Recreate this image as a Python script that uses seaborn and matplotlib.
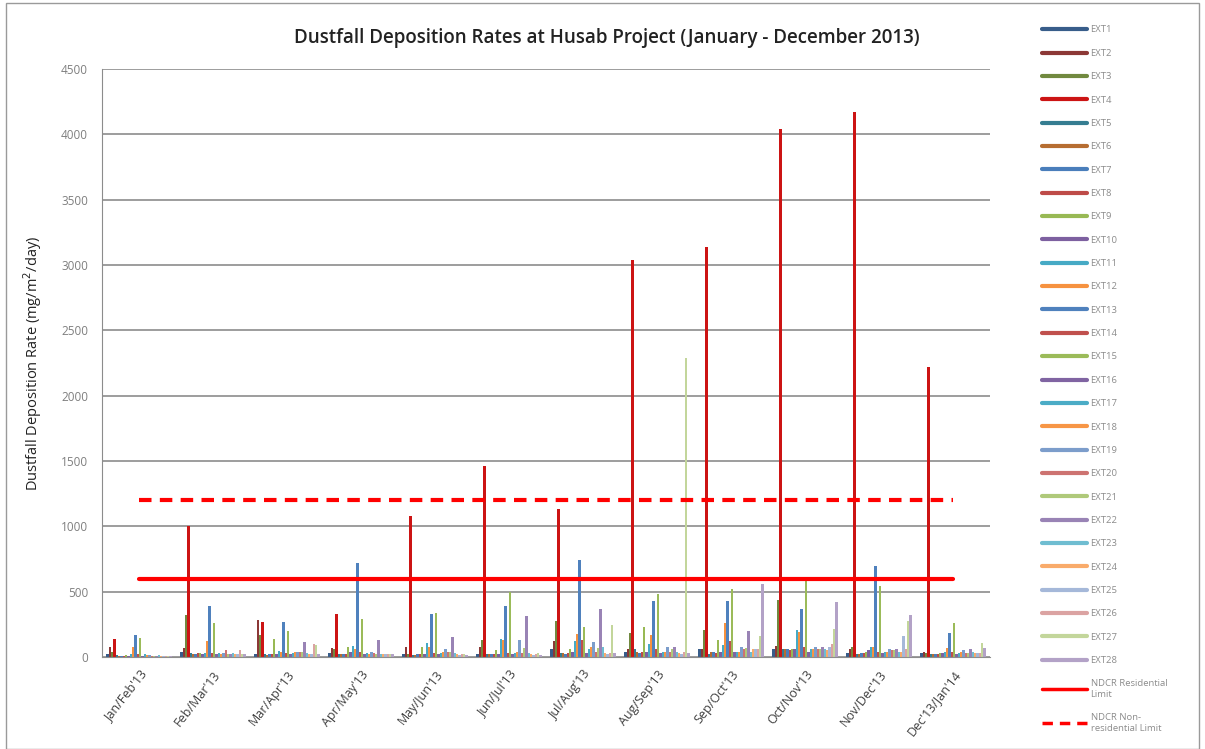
import numpy as np
import pandas as pd
import seaborn as sns
import matplotlib.pyplot as plt
from matplotlib.lines import Line2D
from matplotlib.patches import Rectangle

periods = ["Jan/Feb'13", "Feb/Mar'13", "Mar/Apr'13", "Apr/May'13", "May/Jun'13", "Jun/Jul'13",
           "Jul/Aug'13", "Aug/Sep'13", "Sep/Oct'13", "Oct/Nov'13", "Nov/Dec'13", "Dec'13/Jan'14"]
sites = ["EXT%d" % i for i in range(1, 29)]

# dustfall per site (mg/m2/day), one list per period, EXT1..EXT28
jan_feb = [20, 75, 40, 140, 15, 10, 10, 10, 15, 10, 20, 75, 165, 20, 145, 10, 25, 15, 15, 10, 10, 10, 15, 10, 5, 5, 5, 5]
feb_mar = [35, 70, 320, 1000, 30, 25, 25, 30, 30, 25, 30, 123, 392, 30, 261, 25, 30, 25, 30, 50, 25, 25, 30, 25, 20, 50, 20, 20]
mar_apr = [20, 280, 165, 265, 20, 15, 20, 20, 135, 25, 45, 40, 265, 30, 200, 20, 30, 40, 40, 35, 40, 113, 30, 20, 20, 97, 95, 20]
apr_may = [30, 70, 60, 330, 20, 20, 25, 20, 80, 40, 85, 60, 722, 40, 292, 25, 30, 25, 40, 30, 25, 130, 25, 20, 20, 25, 25, 20]
may_jun = [20, 80, 20, 1080, 15, 15, 20, 20, 80, 25, 108, 80, 328, 30, 335, 25, 30, 40, 60, 35, 40, 155, 30, 20, 15, 25, 25, 15]
jun_jul = [20, 80, 133, 1460, 25, 20, 20, 20, 50, 25, 135, 133, 394, 30, 500, 25, 30, 40, 133, 30, 70, 310, 30, 20, 15, 25, 30, 15]
jul_aug = [65, 123, 275, 1130, 30, 30, 25, 30, 60, 40, 123, 175, 742, 128, 230, 30, 60, 80, 115, 40, 70, 371, 80, 30, 25, 30, 243, 30]
aug_sep = [40, 60, 180, 3040, 60, 40, 30, 35, 230, 40, 100, 170, 425, 60, 481, 30, 40, 40, 80, 40, 60, 80, 40, 30, 25, 40, 2290, 30]
sep_oct = [60, 60, 205, 3140, 25, 40, 40, 30, 133, 40, 90, 264, 432, 125, 517, 40, 40, 40, 80, 60, 70, 200, 40, 60, 60, 60, 160, 560]
oct_nov = [60, 85, 435, 4040, 60, 60, 60, 50, 60, 60, 205, 190, 371, 80, 578, 40, 60, 60, 80, 60, 60, 80, 60, 50, 80, 100, 218, 420]
nov_dec = [30, 60, 80, 4170, 20, 25, 30, 30, 40, 50, 80, 80, 696, 40, 545, 30, 40, 40, 60, 50, 50, 60, 40, 40, 160, 60, 277, 320]
dec_jan = [30, 40, 30, 2220, 20, 20, 25, 25, 30, 30, 40, 70, 180, 40, 264, 25, 30, 40, 50, 30, 30, 60, 40, 30, 30, 30, 108, 70]

residential_limit = [600] * len(periods)
non_residential_limit = [1200] * len(periods)

colors = ["#385D8A", "#8C3836", "#71893F", "#CC1414", "#357D91", "#B66D31",
          "#4A7EBB", "#BE4B48", "#98B954", "#7D60A0", "#46AAC5", "#F69240",
          "#4F81BD", "#C0504D", "#9BBB59", "#8064A2", "#4BACC6", "#F79646",
          "#7C9DCB", "#CD7371", "#AFC97A", "#9983B5", "#6FBDD1", "#F9AB6B",
          "#A5B8D9", "#DBA3A2", "#C3D69B", "#B3A2C7"]

rows = [jan_feb, feb_mar, mar_apr, apr_may, may_jun, jun_jul,
        jul_aug, aug_sep, sep_oct, oct_nov, nov_dec, dec_jan]
records = []
for p, vals in zip(periods, rows):
    for s, v in zip(sites, vals):
        records.append({"period": p, "site": s, "rate": v})
df = pd.DataFrame(records)

sns.set_style("white")
plt.rcParams["font.family"] = ["Open Sans", "DejaVu Sans"]

fig = plt.figure(figsize=(12.05, 7.49), dpi=100)
ax = fig.add_axes([102 / 1205, 1 - 657 / 749, 888 / 1205, 588 / 749])

sns.barplot(data=df, x="period", y="rate", hue="site", palette=colors,
            width=0.88, gap=0, saturation=1, linewidth=0, ax=ax, legend=False, zorder=2)

ax.plot(range(len(periods)), residential_limit, color="#FF0000", lw=3, zorder=3)
ax.plot(range(len(periods)), non_residential_limit, color="#FF0000", lw=3,
        ls=(0, (3, 2)), zorder=3)

ax.set_xlim(-0.5, len(periods) - 0.5)
ax.set_ylim(0, 4500)
ax.set_yticks(np.arange(0, 4501, 500))
ax.yaxis.grid(True, color="#8C8C8C", lw=1.2)
ax.set_axisbelow(True)
for side in ["top", "right"]:
    ax.spines[side].set_visible(False)
ax.spines["left"].set_color("#8C8C8C")
ax.spines["bottom"].set_color("#8C8C8C")

ax.set_xticks(range(len(periods)))
ax.set_xticklabels(periods, rotation=52, ha="right", rotation_mode="anchor",
                   fontsize=9, color="#404040")
ax.set_xticks(np.arange(-0.5, len(periods)), minor=True)
ax.tick_params(axis="x", which="major", length=0, pad=8)
ax.tick_params(axis="x", which="minor", length=5, color="#8C8C8C", direction="out")
ax.tick_params(axis="y", length=0, labelsize=8.5, labelcolor="#7F7F7F", pad=10)
ax.set_xlabel("")
ax.set_ylabel("Dustfall Deposition Rate (mg/m$^2$/day)", fontsize=10.5, color="#222222", labelpad=12)

fig.text(607 / 1205, 1 - 38 / 749,
         "Dustfall Deposition Rates at Husab Project (January - December 2013)",
         ha="center", va="center", fontsize=13.5, fontweight="semibold", color="#222222")

handles = [Line2D([], [], color=c, lw=3) for c in colors]
labels = list(sites)
handles.append(Line2D([], [], color="#FF0000", lw=2.5))
labels.append("NDCR Residential\nLimit")
handles.append(Line2D([], [], color="#FF0000", lw=2.5, ls=(0, (3, 2))))
labels.append("NDCR Non-\nresidential Limit")
fig.legend(handles, labels, loc="upper left", bbox_to_anchor=(1033 / 1205, 1 - 17 / 749),
           frameon=False, fontsize=6.8, handlelength=4.8, handletextpad=0.4,
           labelspacing=1.52, labelcolor="#8C8C8C")

fig.patches.append(Rectangle((6 / 1205, 0), 1 - 12 / 1205, 1 - 3 / 749,
                             transform=fig.transFigure, fill=False,
                             edgecolor="#9A9A9A", lw=1))

fig.savefig("out.png", dpi=100)
